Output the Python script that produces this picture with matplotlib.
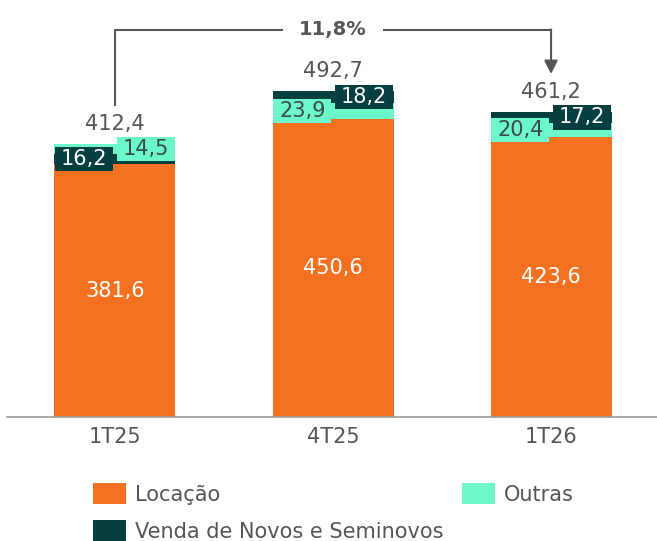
import matplotlib.pyplot as plt
import numpy as np
from matplotlib.path import Path

periods = ["1T25", "4T25", "1T26"]
locacao = [381.6, 450.6, 423.6]
venda = [16.2, 18.2, 17.2]
outras = [14.5, 23.9, 20.4]
totais = [412.4, 492.7, 461.2]
venda_first = [True, False, False]  # 1T25 stacks Venda below Outras
crescimento = "11,8%"

c_loc = "#F37121"
c_venda = "#053F3F"
c_outras = "#6CF8CA"
grey = "#555555"

plt.rcParams["font.family"] = ["DejaVu Sans"]


def hbox(x0, y0, width, height, mutation_size):
    # flat box with wider horizontal padding
    px = 0.28 * mutation_size
    py = 0.1 * mutation_size
    x0, x1 = x0 - px, x0 + width + px
    y0, y1 = y0 - py, y0 + height + py
    return Path([(x0, y0), (x1, y0), (x1, y1), (x0, y1), (x0, y0)], closed=True)


fig = plt.figure(figsize=(6.57, 5.41), dpi=100)
ax = fig.add_axes([7.5 / 657, 124 / 541, 649.5 / 657, 417 / 541])

x = np.arange(len(periods))
w = 0.555
loc = np.array(locacao)
ven = np.array(venda)
out = np.array(outras)
vf = np.array(venda_first)

b_ven = loc + np.where(vf, 0, out)
b_out = loc + np.where(vf, ven, 0)

h_loc = ax.bar(x, loc, w, color=c_loc, label="Locação")
h_ven = ax.bar(x, ven, w, bottom=b_ven, color=c_venda, label="Venda de Novos e Seminovos")
h_out = ax.bar(x, out, w, bottom=b_out, color=c_outras, label="Outras")

fs = 15
for i in range(len(periods)):
    ax.text(x[i], loc[i] / 2, f"{locacao[i]:.1f}".replace(".", ","),
            ha="center", va="center", color="white", fontsize=fs)
    segs = [(ven[i], b_ven[i], c_venda, "white"),
            (out[i], b_out[i], c_outras, "#3d4a4a")]
    segs.sort(key=lambda s: s[1])
    for k, (v, b, fc, tc) in enumerate(segs):
        if k == 0:
            xt, ha = x[i] - w / 2 + 0.03, "left"
        else:
            xt, ha = x[i] + w / 2 - 0.03, "right"
        ax.text(xt, b + v / 2, f"{v:.1f}".replace(".", ","), ha=ha, va="center",
                color=tc, fontsize=fs,
                bbox=dict(boxstyle=hbox, facecolor=fc, edgecolor="none"))
    ax.text(x[i], totais[i] + 30, f"{totais[i]:.1f}".replace(".", ","),
            ha="center", va="center", color=grey, fontsize=fs)

# growth bracket between first and last period
y_top = max(totais) + 92
y_l = totais[0] + 58
y_r = totais[-1] + 57
ax.plot([x[0], x[0], x[-1], x[-1]], [y_l, y_top, y_top, y_top - 1],
        color=grey, lw=1.5, solid_capstyle="butt", zorder=3)
ax.annotate("", xy=(x[-1], y_r), xytext=(x[-1], y_top + 0.8),
            arrowprops=dict(arrowstyle="-|>,head_length=0.8,head_width=0.4",
                            color=grey, lw=1.5, shrinkA=0, shrinkB=0))
ax.text((x[0] + x[-1]) / 2, y_top, crescimento, ha="center", va="center",
        fontsize=14, fontweight="bold", color=grey, zorder=4,
        bbox=dict(boxstyle="square,pad=0.85", facecolor="white", edgecolor="none"))

ax.set_xlim(-0.493, 2.486)
ax.set_ylim(0, 630)
for s in ["top", "right", "left"]:
    ax.spines[s].set_visible(False)
ax.spines["bottom"].set_color("#999999")
ax.spines["bottom"].set_linewidth(1.2)
ax.set_yticks([])
ax.set_xticks(x)
ax.set_xticklabels(periods, fontsize=fs, color=grey)
ax.tick_params(axis="x", length=0, pad=7)

fig.legend(handles=[h_loc, h_ven, h_out], loc="upper left",
           bbox_to_anchor=(93 / 657, 1 - 483 / 541), ncol=2, frameon=False,
           fontsize=fs, labelcolor=grey, handlelength=1.6, handleheight=1.2,
           handletextpad=0.43, columnspacing=0.87, labelspacing=0.75,
           borderpad=0, borderaxespad=0)

fig.savefig("out.png", dpi=100)
